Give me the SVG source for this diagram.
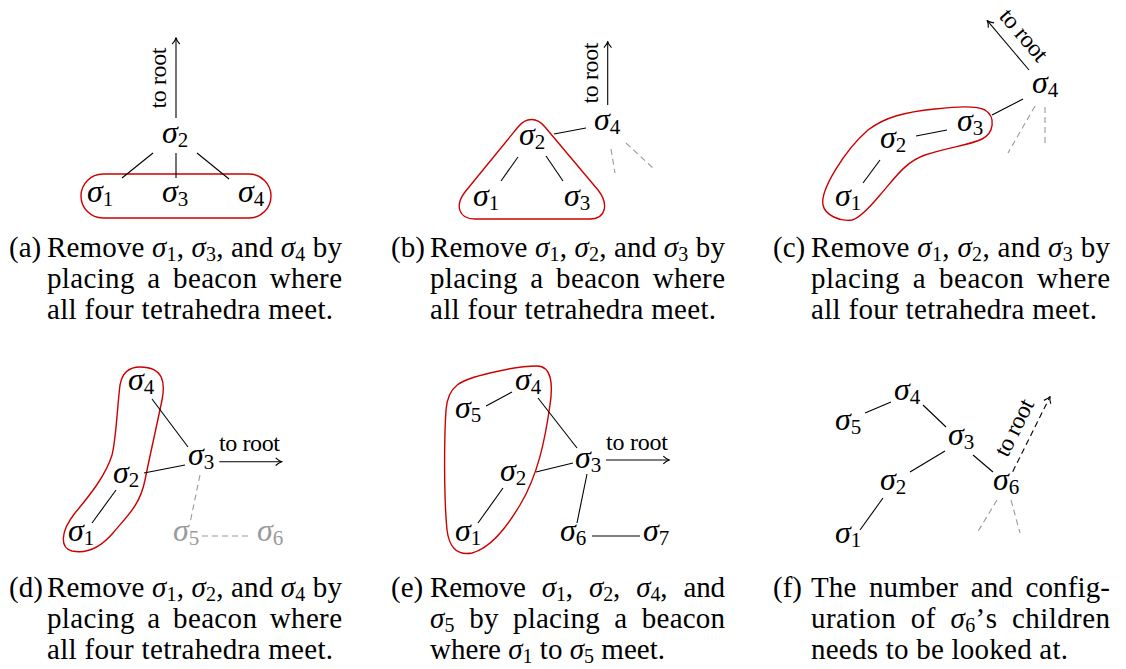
<svg xmlns="http://www.w3.org/2000/svg" width="1126" height="669" viewBox="0 0 1126 669">
<style>
.e{stroke:#000;stroke-width:1.1;fill:none}
.g{stroke:#9a9a9a;stroke-width:1.1;stroke-dasharray:6 4;fill:none}
.d{stroke:#000;stroke-width:1.1;stroke-dasharray:6 4;fill:none}
.r{stroke:#cc0000;stroke-width:1.4;fill:none}
.n{font-family:"Liberation Serif",serif;font-style:italic;font-size:32px;fill:#000}
.n .s{font-style:normal;font-size:21px}
.gn{fill:#9a9a9a}
.cap{font-family:"Liberation Serif",serif;font-size:29px;fill:#000}
.m{font-style:italic}
.cs{font-size:20px}
.w5{word-spacing:5px}
.w7{word-spacing:7px}
.w9{word-spacing:9px}
.tr{font-family:"Liberation Serif",serif;font-size:24px;fill:#000}
</style>
<defs>
<marker id="ah" viewBox="-8 -5 9 10" markerWidth="9" markerHeight="10" refX="0" refY="0" orient="auto" markerUnits="userSpaceOnUse">
<path d="M -6,-3.8 C -3.8,-1.6 -1.6,-0.5 0,0 C -1.6,0.5 -3.8,1.6 -6,3.8" fill="none" stroke="#000" stroke-width="1.1"/>
</marker>
</defs>

<g id="groupings">
<rect class="r" x="81" y="174" width="190" height="44" rx="22"/>
<path class="r" d="M 518,127 C 526,117 537,117 545,127 L 598,190 C 609,204 606,219 590,219 L 475,219 C 458,219 455,205 465,192 Z"/>
<path class="r" d="M 823,205 C 820,190 845,150 868,130 C 885,117 905,112 935,109 C 955,107 975,105 985,110 C 996,117 994,133 982,139 C 970,145 950,147 925,155 C 905,162 895,178 880,195 C 870,207 860,218 852,220 C 840,222 825,215 823,205 Z"/>
<path class="r" d="M 140,367 C 128,367 122,374 120,385 C 117,410 116,440 112,455 C 106,475 90,495 75,513 C 60,532 60,548 72,551 C 86,554 100,548 113,533 C 128,515 140,505 145,480 C 150,455 158,420 162,400 C 165,385 165,367 140,367 Z"/>
<path class="r" d="M 537,366 C 552,366 553,385 550,405 C 545,440 538,475 520,505 C 505,530 490,548 472,553 C 455,556 449,545 447,530 C 444,500 444,440 446,410 C 448,385 460,380 490,373 C 510,368 525,366 537,366 Z"/>
</g>

<g id="connectors">
<line class="e" x1="176" y1="118" x2="176" y2="38" marker-end="url(#ah)"/>
<line class="e" x1="153" y1="153" x2="122" y2="178"/>
<line class="e" x1="176" y1="153" x2="176" y2="178"/>
<line class="e" x1="197" y1="153" x2="229" y2="179"/>
<line class="e" x1="607.7" y1="105" x2="607.7" y2="41.7" marker-end="url(#ah)"/>
<line class="e" x1="554" y1="134" x2="586" y2="128"/>
<line class="e" x1="518" y1="157" x2="501" y2="181"/>
<line class="e" x1="546" y1="156" x2="563" y2="181"/>
<line class="g" x1="611" y1="149" x2="615" y2="173"/>
<line class="g" x1="626" y1="143" x2="654" y2="169"/>
<line class="e" x1="1029" y1="70" x2="987.3" y2="20.7" marker-end="url(#ah)"/>
<line class="e" x1="992" y1="115" x2="1023" y2="99"/>
<line class="e" x1="916" y1="136" x2="947" y2="130"/>
<line class="e" x1="863" y1="183" x2="880" y2="160"/>
<line class="g" x1="1035" y1="106" x2="1008" y2="153"/>
<line class="g" x1="1045" y1="107" x2="1045" y2="147"/>
<line class="e" x1="219.3" y1="461.7" x2="281.7" y2="461.7" marker-end="url(#ah)"/>
<line class="e" x1="152" y1="399" x2="188" y2="447"/>
<line class="e" x1="144" y1="473" x2="185" y2="465"/>
<line class="e" x1="92" y1="523" x2="116" y2="490"/>
<line class="g" x1="200" y1="475" x2="190" y2="523"/>
<line class="g" x1="202" y1="536" x2="252" y2="536"/>
<line class="e" x1="606" y1="460" x2="669.3" y2="460" marker-end="url(#ah)"/>
<line class="e" x1="486" y1="406" x2="512" y2="392"/>
<line class="e" x1="538" y1="398" x2="577" y2="448"/>
<line class="e" x1="536" y1="472" x2="573" y2="463"/>
<line class="e" x1="478" y1="523" x2="503" y2="488"/>
<line class="e" x1="587" y1="474" x2="577" y2="523"/>
<line class="e" x1="592" y1="536" x2="640" y2="536"/>
<line class="d" x1="1012.7" y1="471.7" x2="1050" y2="396.7" marker-end="url(#ah)"/>
<line class="e" x1="865" y1="413" x2="891" y2="402"/>
<line class="e" x1="923" y1="405" x2="946" y2="427"/>
<line class="e" x1="910" y1="472" x2="945" y2="451"/>
<line class="e" x1="973" y1="455" x2="993" y2="472"/>
<line class="e" x1="883" y1="498" x2="860" y2="530"/>
<line class="g" x1="997" y1="500" x2="977" y2="533"/>
<line class="g" x1="1011" y1="500" x2="1020" y2="533"/>
</g>

<g id="edge-labels">
<text class="tr" transform="translate(166,78) rotate(-90)" text-anchor="middle" textLength="61">to root</text>
<text class="tr" transform="translate(598,73) rotate(-90)" text-anchor="middle" textLength="61">to root</text>
<text class="tr" transform="translate(1018,40) rotate(49.6)" text-anchor="middle" textLength="61">to root</text>
<text class="tr" x="219" y="451" textLength="61">to root</text>
<text class="tr" x="606" y="450" textLength="62">to root</text>
<text class="tr" transform="translate(1021,431) rotate(-63.5)" text-anchor="middle" textLength="61">to root</text>
</g>

<g id="panel-a">
<g id="a-s2"><text class="n" x="162" y="143">σ<tspan class="s" dy="4">2</tspan></text></g>
<g id="a-s1"><text class="n" x="87" y="202">σ<tspan class="s" dy="4">1</tspan></text></g>
<g id="a-s3"><text class="n" x="162" y="202">σ<tspan class="s" dy="4">3</tspan></text></g>
<g id="a-s4"><text class="n" x="238" y="202">σ<tspan class="s" dy="4">4</tspan></text></g>
</g>
<g id="panel-b">
<g id="b-s4"><text class="n" x="594" y="130">σ<tspan class="s" dy="4">4</tspan></text></g>
<g id="b-s2"><text class="n" x="519" y="145">σ<tspan class="s" dy="4">2</tspan></text></g>
<g id="b-s1"><text class="n" x="473" y="206">σ<tspan class="s" dy="4">1</tspan></text></g>
<g id="b-s3"><text class="n" x="564" y="206">σ<tspan class="s" dy="4">3</tspan></text></g>
</g>
<g id="panel-c">
<g id="c-s4"><text class="n" x="1032" y="93">σ<tspan class="s" dy="4">4</tspan></text></g>
<g id="c-s3"><text class="n" x="957" y="131">σ<tspan class="s" dy="4">3</tspan></text></g>
<g id="c-s2"><text class="n" x="880" y="148">σ<tspan class="s" dy="4">2</tspan></text></g>
<g id="c-s1"><text class="n" x="835" y="206">σ<tspan class="s" dy="4">1</tspan></text></g>
</g>
<g id="panel-d">
<g id="d-s4"><text class="n" x="128" y="390">σ<tspan class="s" dy="4">4</tspan></text></g>
<g id="d-s3"><text class="n" x="188" y="465">σ<tspan class="s" dy="4">3</tspan></text></g>
<g id="d-s2"><text class="n" x="113" y="483">σ<tspan class="s" dy="4">2</tspan></text></g>
<g id="d-s1"><text class="n" x="68" y="541">σ<tspan class="s" dy="4">1</tspan></text></g>
<g id="d-s5"><text class="n gn" x="173" y="541">σ<tspan class="s" dy="4">5</tspan></text></g>
<g id="d-s6"><text class="n gn" x="257" y="541">σ<tspan class="s" dy="4">6</tspan></text></g>
</g>
<g id="panel-e">
<g id="e-s4"><text class="n" x="515" y="390">σ<tspan class="s" dy="4">4</tspan></text></g>
<g id="e-s5"><text class="n" x="455" y="418">σ<tspan class="s" dy="4">5</tspan></text></g>
<g id="e-s3"><text class="n" x="575" y="468">σ<tspan class="s" dy="4">3</tspan></text></g>
<g id="e-s2"><text class="n" x="500" y="481">σ<tspan class="s" dy="4">2</tspan></text></g>
<g id="e-s1"><text class="n" x="455" y="541">σ<tspan class="s" dy="4">1</tspan></text></g>
<g id="e-s6"><text class="n" x="560" y="541">σ<tspan class="s" dy="4">6</tspan></text></g>
<g id="e-s7"><text class="n" x="643" y="541">σ<tspan class="s" dy="4">7</tspan></text></g>
</g>
<g id="panel-f">
<g id="f-s4"><text class="n" x="894" y="400">σ<tspan class="s" dy="4">4</tspan></text></g>
<g id="f-s5"><text class="n" x="835" y="430">σ<tspan class="s" dy="4">5</tspan></text></g>
<g id="f-s3"><text class="n" x="948" y="445">σ<tspan class="s" dy="4">3</tspan></text></g>
<g id="f-s2"><text class="n" x="880" y="490">σ<tspan class="s" dy="4">2</tspan></text></g>
<g id="f-s6"><text class="n" x="993" y="490">σ<tspan class="s" dy="4">6</tspan></text></g>
<g id="f-s1"><text class="n" x="835" y="543">σ<tspan class="s" dy="4">1</tspan></text></g>
</g>

<g id="captions">
<text class="cap" x="9" y="257">(a)</text>
<text class="cap" x="47" y="257" textLength="295" lengthAdjust="spacing">Remove <tspan class="m">σ</tspan><tspan class="cs" dy="4">1</tspan><tspan dy="-4">, </tspan><tspan class="m">σ</tspan><tspan class="cs" dy="4">3</tspan><tspan dy="-4">, and </tspan><tspan class="m">σ</tspan><tspan class="cs" dy="4">4</tspan><tspan dy="-4"> by</tspan></text>
<text class="cap w5" x="47" y="288" textLength="295" lengthAdjust="spacing">placing a beacon where</text>
<text class="cap" x="47" y="319" textLength="286" lengthAdjust="spacing">all four tetrahedra meet.</text>

<text class="cap" x="391" y="257">(b)</text>
<text class="cap" x="430" y="257" textLength="295" lengthAdjust="spacing">Remove <tspan class="m">σ</tspan><tspan class="cs" dy="4">1</tspan><tspan dy="-4">, </tspan><tspan class="m">σ</tspan><tspan class="cs" dy="4">2</tspan><tspan dy="-4">, and </tspan><tspan class="m">σ</tspan><tspan class="cs" dy="4">3</tspan><tspan dy="-4"> by</tspan></text>
<text class="cap w5" x="430" y="288" textLength="295" lengthAdjust="spacing">placing a beacon where</text>
<text class="cap" x="430" y="319" textLength="286" lengthAdjust="spacing">all four tetrahedra meet.</text>

<text class="cap" x="773" y="257">(c)</text>
<text class="cap" x="811" y="257" textLength="299" lengthAdjust="spacing">Remove <tspan class="m">σ</tspan><tspan class="cs" dy="4">1</tspan><tspan dy="-4">, </tspan><tspan class="m">σ</tspan><tspan class="cs" dy="4">2</tspan><tspan dy="-4">, and </tspan><tspan class="m">σ</tspan><tspan class="cs" dy="4">3</tspan><tspan dy="-4"> by</tspan></text>
<text class="cap w5" x="811" y="288" textLength="299" lengthAdjust="spacing">placing a beacon where</text>
<text class="cap" x="811" y="319" textLength="286" lengthAdjust="spacing">all four tetrahedra meet.</text>

<text class="cap" x="9" y="597">(d)</text>
<text class="cap" x="47" y="597" textLength="295" lengthAdjust="spacing">Remove <tspan class="m">σ</tspan><tspan class="cs" dy="4">1</tspan><tspan dy="-4">, </tspan><tspan class="m">σ</tspan><tspan class="cs" dy="4">2</tspan><tspan dy="-4">, and </tspan><tspan class="m">σ</tspan><tspan class="cs" dy="4">4</tspan><tspan dy="-4"> by</tspan></text>
<text class="cap w5" x="47" y="628" textLength="295" lengthAdjust="spacing">placing a beacon where</text>
<text class="cap" x="47" y="659" textLength="286" lengthAdjust="spacing">all four tetrahedra meet.</text>

<text class="cap" x="391" y="597">(e)</text>
<text class="cap w9" x="430" y="597" textLength="295" lengthAdjust="spacing">Remove <tspan class="m">σ</tspan><tspan class="cs" dy="4">1</tspan><tspan dy="-4">, </tspan><tspan class="m">σ</tspan><tspan class="cs" dy="4">2</tspan><tspan dy="-4">, </tspan><tspan class="m">σ</tspan><tspan class="cs" dy="4">4</tspan><tspan dy="-4">, and</tspan></text>
<text class="cap w7" x="430" y="628" textLength="295" lengthAdjust="spacing"><tspan class="m">σ</tspan><tspan class="cs" dy="4">5</tspan><tspan dy="-4"> by placing a beacon</tspan></text>
<text class="cap" x="430" y="659" textLength="235" lengthAdjust="spacing">where <tspan class="m">σ</tspan><tspan class="cs" dy="4">1</tspan><tspan dy="-4"> to </tspan><tspan class="m">σ</tspan><tspan class="cs" dy="4">5</tspan><tspan dy="-4"> meet.</tspan></text>

<text class="cap" x="773" y="597">(f)</text>
<text class="cap w5" x="811" y="597" textLength="299" lengthAdjust="spacing">The number and config-</text>
<text class="cap w7" x="811" y="628" textLength="299" lengthAdjust="spacing">uration of <tspan class="m">σ</tspan><tspan class="cs" dy="4">6</tspan><tspan dy="-4">’s children</tspan></text>
<text class="cap" x="811" y="659" textLength="257" lengthAdjust="spacing">needs to be looked at.</text>
</g>
</svg>
